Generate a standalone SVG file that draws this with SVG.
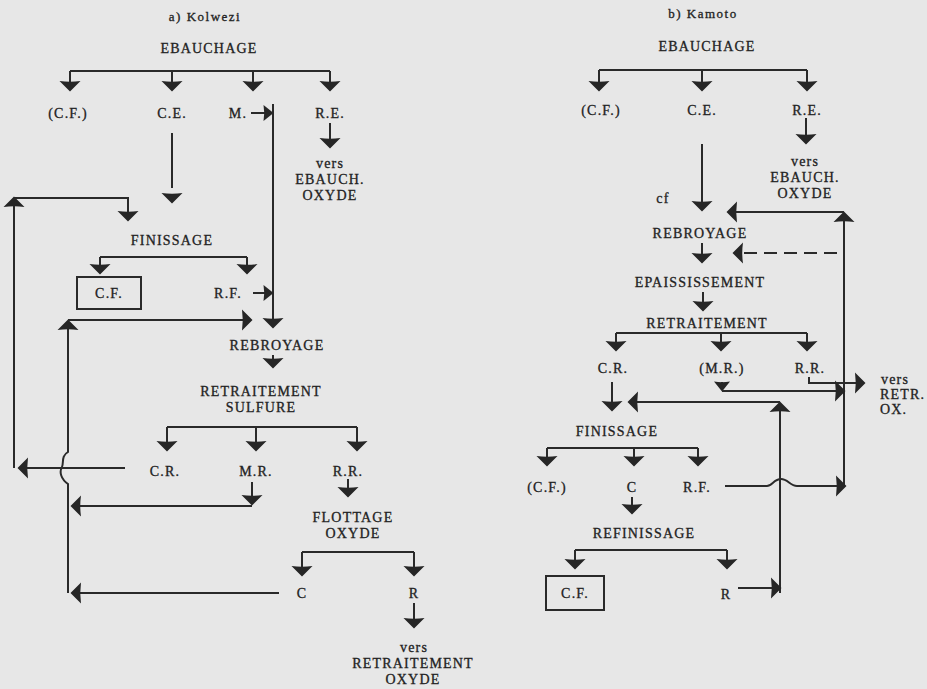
<svg xmlns="http://www.w3.org/2000/svg" width="927" height="689" viewBox="0 0 927 689">
<style>
text{font-family:"Liberation Serif","Times New Roman",serif;font-size:14px;fill:#222;stroke:#222;stroke-width:0.3;text-anchor:middle;letter-spacing:1.2px}
.t{font-size:13px;letter-spacing:1.5px}
.l{text-anchor:start}
.c{fill:none;stroke:#2a2a2a;stroke-width:2}
.a{marker-end:url(#ah)}
.s{marker-end:url(#as)}
.d{stroke-dasharray:13 7}
.box{fill:none;stroke:#2a2a2a;stroke-width:2}
</style>
<defs>
<marker id="ah" markerUnits="userSpaceOnUse" viewBox="-11 -11 13 22" markerWidth="13" markerHeight="22" refX="0" refY="0" orient="auto">
<path d="M1.5,0 L-9,-10.5 Q-7.5,0 -9,10.5 Z" fill="#262626"/>
</marker>
<marker id="as" markerUnits="userSpaceOnUse" viewBox="-11 -9 13 18" markerWidth="13" markerHeight="18" refX="0" refY="0" orient="auto">
<path d="M1.5,0 L-8.5,-8 Q-7,0 -8.5,8 Z" fill="#262626"/>
</marker>
</defs>
<rect width="927" height="689" fill="#e7e7e7"/>

<g id="connectors">
<!-- left diagram -->
<path class="c" d="M70,71 H330"/>
<path class="c a" d="M70,71 V90"/>
<path class="c a" d="M172,71 V90"/>
<path class="c a" d="M253,71 V90"/>
<path class="c a" d="M330,71 V90"/>
<path class="c s" d="M251,113 H272"/>
<path class="c a" d="M273,104 V327"/>
<path class="c a" d="M330,123 V147"/>
<path class="c" d="M172,133 V188"/>
<path class="c a" d="M172,196 V202"/>
<path class="c a" d="M125,468 H19"/>
<path class="c a" d="M14,468 V198"/>
<path class="c a" d="M14,198 H128 V220"/>
<path class="c" d="M100,257 H247"/>
<path class="c a" d="M100,257 V273"/>
<path class="c a" d="M247,257 V273"/>
<path class="c s" d="M253,293 H272"/>
<path class="c a" d="M68,593 V484 C61,479 59,472 62,467 C64,462 61,456 68,452 V321"/>
<path class="c a" d="M68,320 H251"/>
<path class="c a" d="M273,355 V367"/>
<path class="c" d="M167,427 H357"/>
<path class="c a" d="M167,427 V450"/>
<path class="c a" d="M256,427 V450"/>
<path class="c a" d="M357,427 V450"/>
<path class="c a" d="M252,482 V504"/>
<path class="c a" d="M252,506 H72"/>
<path class="c a" d="M348,479 V496"/>
<path class="c" d="M302,552 H414"/>
<path class="c a" d="M302,552 V575"/>
<path class="c a" d="M414,552 V575"/>
<path class="c a" d="M279,593 H72"/>
<path class="c a" d="M414,603 V627"/>
<!-- right diagram -->
<path class="c" d="M599,70 H807"/>
<path class="c a" d="M599,70 V90"/>
<path class="c a" d="M702,70 V90"/>
<path class="c a" d="M807,70 V90"/>
<path class="c a" d="M806,118 V143"/>
<path class="c a" d="M702,144 V210"/>
<path class="c a" d="M844,487 V213"/>
<path class="c a" d="M844,212 H728"/>
<path class="c a" d="M702,243 V262"/>
<path class="c d a" d="M837,253 H734"/>
<path class="c a" d="M703,292 V310"/>
<path class="c" d="M616,333 H807"/>
<path class="c a" d="M616,333 V350"/>
<path class="c a" d="M721,333 V350"/>
<path class="c a" d="M807,333 V350"/>
<path class="c a" d="M809,377 V383 H864"/>
<path class="c s" d="M722,382 V390"/>
<path class="c a" d="M722,391 H844"/>
<path class="c a" d="M612,382 V410"/>
<path class="c a" d="M780,593 V403"/>
<path class="c a" d="M780,402 H629"/>
<path class="c" d="M547,448 H698"/>
<path class="c a" d="M547,448 V465"/>
<path class="c a" d="M634,448 V465"/>
<path class="c a" d="M698,448 V465"/>
<path class="c a" d="M725,486 H767 C772,486 774,479 781,479 C788,479 790,486 797,486 H845"/>
<path class="c a" d="M632,497 V513"/>
<path class="c" d="M575,550 H727"/>
<path class="c a" d="M575,550 V568"/>
<path class="c a" d="M727,550 V568"/>
<path class="c a" d="M738,588 H780"/>
</g>

<g id="title-a"><text class="t" x="205" y="21">a) Kolwezi</text></g>
<g id="a-ebauchage"><text x="209" y="53">EBAUCHAGE</text></g>
<g id="a-cf1"><text x="68" y="118">(C.F.)</text></g>
<g id="a-ce"><text x="172" y="118">C.E.</text></g>
<g id="a-m"><text x="238" y="118">M.</text></g>
<g id="a-re"><text x="330" y="118">R.E.</text></g>
<g id="a-vers-ebauch"><text x="330" y="168">vers</text><text x="330" y="184">EBAUCH.</text><text x="330" y="200">OXYDE</text></g>
<g id="a-finissage"><text x="172" y="245">FINISSAGE</text></g>
<g id="a-cf2"><rect class="box" x="77" y="277" width="64" height="32"/><text x="109" y="298">C.F.</text></g>
<g id="a-rf"><text x="228" y="298">R.F.</text></g>
<g id="a-rebroyage"><text x="277" y="350">REBROYAGE</text></g>
<g id="a-retraitement"><text x="261" y="396">RETRAITEMENT</text><text x="261" y="412">SULFURE</text></g>
<g id="a-cr"><text x="165" y="476">C.R.</text></g>
<g id="a-mr"><text x="256" y="476">M.R.</text></g>
<g id="a-rr"><text x="348" y="476">R.R.</text></g>
<g id="a-flottage"><text x="353" y="522">FLOTTAGE</text><text x="353" y="538">OXYDE</text></g>
<g id="a-c"><text x="302" y="598">C</text></g>
<g id="a-r"><text x="414" y="598">R</text></g>
<g id="a-vers-retr"><text x="414" y="652">vers</text><text x="413" y="668">RETRAITEMENT</text><text x="413" y="684">OXYDE</text></g>

<g id="title-b"><text class="t" x="703" y="18">b) Kamoto</text></g>
<g id="b-ebauchage"><text x="707" y="51">EBAUCHAGE</text></g>
<g id="b-cf1"><text x="601" y="115">(C.F.)</text></g>
<g id="b-ce"><text x="702" y="115">C.E.</text></g>
<g id="b-re"><text x="807" y="115">R.E.</text></g>
<g id="b-vers-ebauch"><text x="805" y="166">vers</text><text x="805" y="182">EBAUCH.</text><text x="805" y="198">OXYDE</text></g>
<g id="b-cf-label"><text x="663" y="203">cf</text></g>
<g id="b-rebroyage"><text x="700" y="238">REBROYAGE</text></g>
<g id="b-epaississement"><text x="700" y="287">EPAISSISSEMENT</text></g>
<g id="b-retraitement"><text x="707" y="328">RETRAITEMENT</text></g>
<g id="b-cr"><text x="613" y="373">C.R.</text></g>
<g id="b-mr"><text x="722" y="373">(M.R.)</text></g>
<g id="b-rr"><text x="810" y="373">R.R.</text></g>
<g id="b-vers-retr"><text class="l" x="881" y="384">vers</text><text class="l" x="880" y="399">RETR.</text><text class="l" x="880" y="414">OX.</text></g>
<g id="b-finissage"><text x="617" y="436">FINISSAGE</text></g>
<g id="b-cf2"><text x="547" y="492">(C.F.)</text></g>
<g id="b-c"><text x="632" y="492">C</text></g>
<g id="b-rf"><text x="697" y="492">R.F.</text></g>
<g id="b-refinissage"><text x="644" y="538">REFINISSAGE</text></g>
<g id="b-cf3"><rect class="box" x="546" y="576" width="58" height="34"/><text x="575" y="598">C.F.</text></g>
<g id="b-r"><text x="726" y="599">R</text></g>
</svg>
